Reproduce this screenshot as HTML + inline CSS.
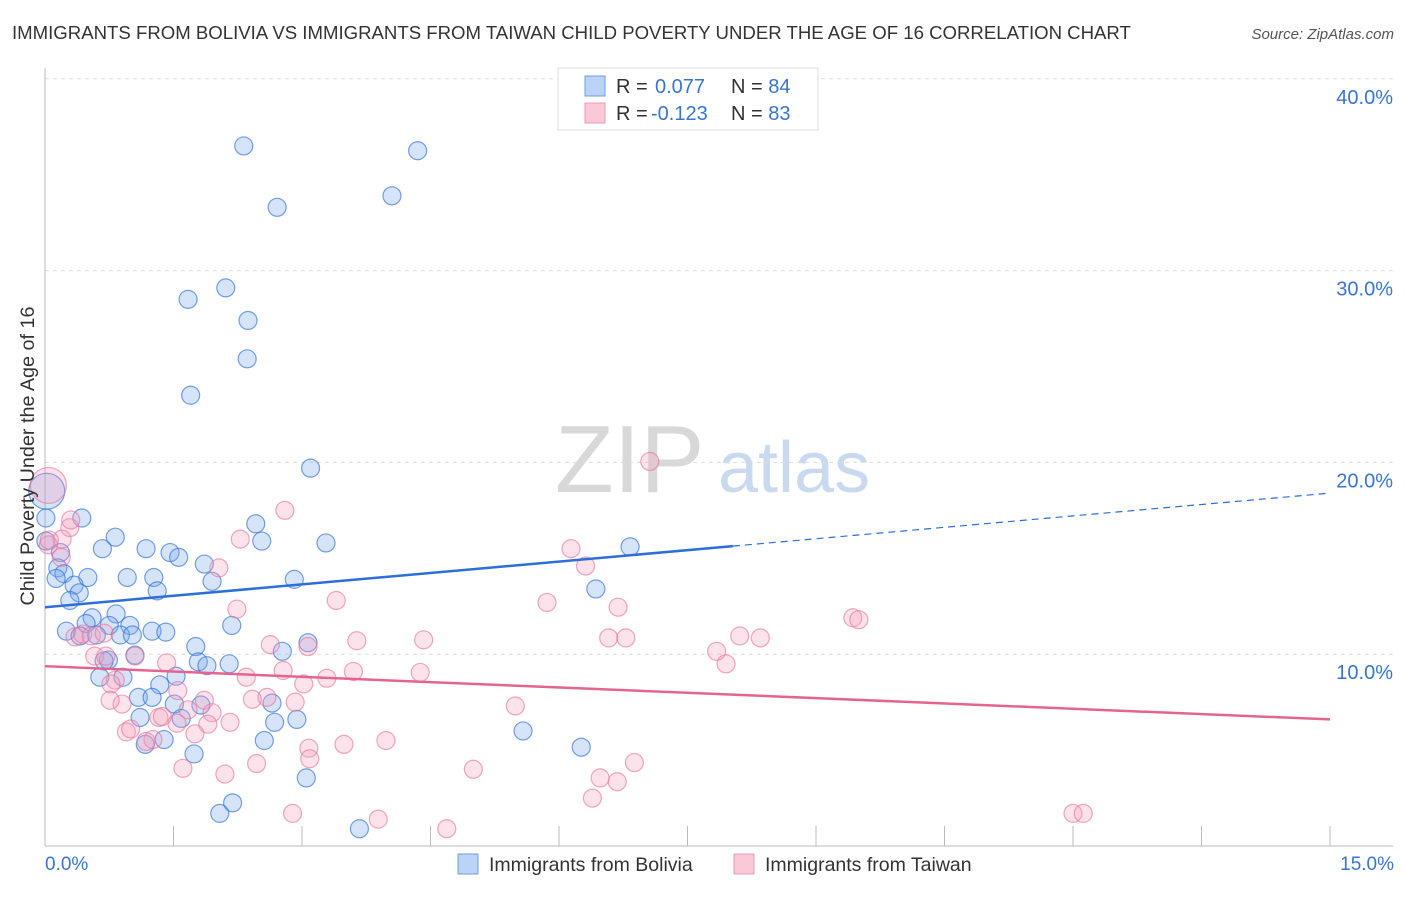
<!DOCTYPE html>
<html><head><meta charset="utf-8"><style>
body{margin:0;background:#fff;font-family:"Liberation Sans",sans-serif;}
svg text{font-family:"Liberation Sans",sans-serif;}
</style></head><body>
<svg id="chart" width="1406" height="892">
<text x="12" y="39" font-size="18.6" fill="#333">IMMIGRANTS FROM BOLIVIA VS IMMIGRANTS FROM TAIWAN CHILD POVERTY UNDER THE AGE OF 16 CORRELATION CHART</text>
<text x="1394" y="39" font-size="15" fill="#555" font-style="italic" text-anchor="end">Source: ZipAtlas.com</text>
<text x="555" y="492" font-size="96" fill="#d8d8d8" font-family="Liberation Serif">ZIP</text>
<text x="718" y="492" font-size="72" fill="#c9daf0">atlas</text>
<g id="grid"></g><g id="marks"></g>
<text transform="translate(34,456) rotate(-90)" font-size="19.8" fill="#333" text-anchor="middle">Child Poverty Under the Age of 16</text>
<text x="45" y="870" font-size="19" fill="#3a74d1">0.0%</text>
<text x="1394" y="870" font-size="19" fill="#3a74d1" text-anchor="end">15.0%</text>
<g>
<rect x="558" y="68" width="260" height="62" fill="#fff" stroke="#ddd"/>
<rect x="585" y="76" width="20" height="20" fill="#bcd3f5" stroke="#6e9ee0"/>
<rect x="585" y="103" width="20" height="20" fill="#f9c9d8" stroke="#ee9ab5"/>
<text x="616" y="93" font-size="20" fill="#333">R = <tspan x="655" fill="#3a74d1">0.077</tspan><tspan x="731">N = </tspan><tspan fill="#3a74d1">84</tspan></text>
<text x="616" y="120" font-size="20" fill="#333">R = <tspan x="651" fill="#3a74d1">-0.123</tspan><tspan x="731">N = </tspan><tspan fill="#3a74d1">83</tspan></text>
</g>
<g>
<rect x="458" y="854" width="20" height="20" fill="#bcd3f5" stroke="#6e9ee0"/>
<text x="489" y="871" font-size="19.5" fill="#333">Immigrants from Bolivia</text>
<rect x="734" y="854" width="20" height="20" fill="#f9c9d8" stroke="#ee9ab5"/>
<text x="765" y="871" font-size="19.5" fill="#333">Immigrants from Taiwan</text>
</g>
</svg>
<script>
const yTicks=[10,20,30,40];
const yTickLabels=["10.0%","20.0%","30.0%","40.0%"];
const boliviaX=[2.32,4.35,2.71,4.05,1.67,2.11,2.37,2.36,1.70,3.10,0.02,0.01,0.43,2.46,0.82,2.53,3.28,6.83,0.67,1.18,1.46,1.56,0.18,1.86,0.15,0.22,0.50,0.96,1.27,2.91,1.95,0.34,6.43,1.31,0.40,0.29,0.55,0.83,0.48,0.99,0.75,2.18,0.25,0.60,0.88,1.25,1.41,1.02,1.76,2.77,3.07,1.79,1.89,2.15,0.74,1.05,0.64,0.91,1.53,1.34,1.09,1.25,1.51,1.82,2.65,1.11,1.59,2.94,2.68,2.56,1.39,1.17,5.58,6.26,1.74,3.05,2.19,2.04,3.67,0.01,0.13,0.41,0.69];
const boliviaY=[36.5,36.25,33.3,33.9,28.5,29.1,27.4,25.4,23.5,19.7,18.5,17.1,17.1,16.8,16.1,15.9,15.8,15.6,15.5,15.5,15.3,15.05,15.3,14.7,14.5,14.2,14.0,14.0,14.0,13.9,13.8,13.6,13.4,13.3,13.2,12.8,11.9,12.1,11.6,11.5,11.5,11.5,11.2,11.0,11.0,11.2,11.15,11.0,10.4,10.15,10.6,9.6,9.4,9.5,9.7,9.95,8.8,8.8,8.85,8.4,7.75,7.75,7.4,7.35,7.45,6.7,6.65,6.6,6.45,5.5,5.55,5.3,6.0,5.15,4.8,3.55,2.25,1.7,0.9,15.9,13.95,10.95,9.65];
const boliviaPop=boliviaX.map((v,i)=>i===10?4:1);
const taiwanX=[0.04,0.29,0.20,0.04,0.19,2.80,2.28,6.14,2.03,6.31,3.40,2.24,5.86,6.69,9.43,9.50,8.11,8.35,6.58,6.78,4.42,3.64,2.63,3.07,0.35,0.44,0.54,0.69,0.58,0.71,1.05,1.42,7.84,7.95,2.78,4.38,3.60,2.35,3.29,1.55,3.02,0.82,0.77,1.86,2.59,2.92,2.42,0.90,5.49,1.95,1.67,1.33,2.16,1.90,1.75,0.95,1.54,1.00,1.37,1.26,1.18,3.08,3.49,3.98,3.09,2.47,1.61,2.10,5.00,6.48,6.88,6.68,6.39,2.89,3.89,4.69,12.0,12.12,7.06,0.30,0.05,0.76];
const taiwanY=[18.8,16.6,16.0,15.7,15.05,17.5,16.0,15.5,14.5,14.6,12.8,12.35,12.7,12.45,11.9,11.8,10.95,10.85,10.85,10.85,10.75,10.7,10.5,10.4,10.9,11.05,10.95,11.1,9.9,9.9,9.9,9.55,10.15,9.5,9.15,9.05,9.1,8.8,8.75,8.1,8.45,8.65,8.45,7.6,7.75,7.5,7.65,7.4,7.3,6.95,7.1,6.7,6.45,6.35,5.85,5.95,6.4,6.1,6.75,5.55,5.45,5.1,5.3,5.5,4.55,4.3,4.05,3.75,4.0,3.55,4.35,3.35,2.5,1.7,1.4,0.9,1.7,1.7,20.05,17.0,15.95,7.6];
const taiwanPop=taiwanX.map((v,i)=>i===0?4:1);
const boliviaTrend=[12.45,18.4]; const boliviaSolidEnd=8.03;
const taiwanTrend=[9.375,6.6];

const NS="http://www.w3.org/2000/svg";
const X0=45,X1=1330,Y0=846,PXPER=19.18;
const xs=v=>X0+(v/15)*(X1-X0);
const ys=v=>Y0-v*PXPER;
function mk(t,a,p){const e=document.createElementNS(NS,t);for(const k in a)e.setAttribute(k,a[k]);p.appendChild(e);return e;}
const grid=document.getElementById('grid'),marks=document.getElementById('marks');
yTicks.forEach((t,i)=>{
 const l=mk('line',{x1:X0,x2:1393,y1:ys(t),y2:ys(t),stroke:'#ddd','stroke-dasharray':'4,4'},grid);
 
 
 const tx=mk('text',{x:1393,y:ys(t)+25,'font-size':20,fill:'#3a74d1','text-anchor':'end'},grid);
 tx.textContent=yTickLabels[i];
 
 
});
const ax=mk('line',{x1:X0,x2:1393,y1:Y0,y2:Y0,stroke:'#bbb'},grid);


const ay=mk('line',{x1:X0,x2:X0,y1:68,y2:Y0,stroke:'#bbb'},grid);


for(let k=1;k<=10;k++){
 const t=mk('line',{x1:xs(k*1.5),x2:xs(k*1.5),y1:Y0-20,y2:Y0,stroke:'#bbb'},grid);
 
 
}
function pts(X,Y,P,fill,stroke,name){
 X.forEach((v,i)=>{
  const c=mk('circle',{cx:xs(v),cy:ys(Y[i]),r:P[i]>1?18:9,fill:fill,stroke:stroke,'stroke-width':1.2},marks);
  
  
 });
}
pts(boliviaX,boliviaY,boliviaPop,'rgba(120,165,235,0.3)','rgba(45,111,214,0.65)','bolivia-point');
pts(taiwanX,taiwanY,taiwanPop,'rgba(245,160,190,0.3)','rgba(232,110,150,0.6)','taiwan-point');
const bAt=v=>boliviaTrend[0]+(boliviaTrend[1]-boliviaTrend[0])*v/15;
const b1=mk('line',{x1:xs(0),y1:ys(bAt(0)),x2:xs(boliviaSolidEnd),y2:ys(bAt(boliviaSolidEnd)),stroke:'#2d6fd6','stroke-width':2.5},marks);


const b2=mk('line',{x1:xs(boliviaSolidEnd),y1:ys(bAt(boliviaSolidEnd)),x2:xs(15),y2:ys(bAt(15)),stroke:'#2d6fd6','stroke-width':1.2,'stroke-dasharray':'7,5'},marks);


const t1=mk('line',{x1:xs(0),y1:ys(taiwanTrend[0]),x2:xs(15),y2:ys(taiwanTrend[1]),stroke:'#e5648f','stroke-width':2.5},marks);


</script>
</body></html>
